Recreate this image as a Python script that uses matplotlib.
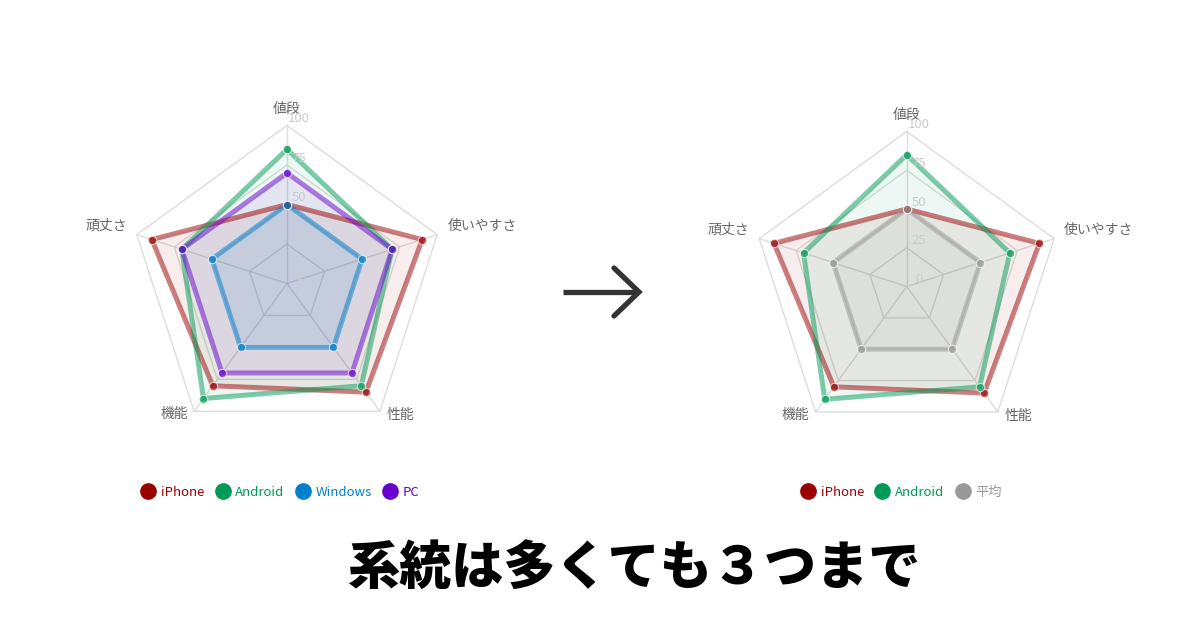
import numpy as np
import matplotlib.pyplot as plt
from matplotlib.lines import Line2D

plt.rcParams['font.family'] = ['Noto Sans CJK JP', 'DejaVu Sans']

# data
labels = ['値段', '使いやすさ', '性能', '機能', '頑丈さ']
iphone = [50, 90, 85, 80, 90]
android = [85, 70, 80, 90, 70]
windows = [50, 50, 50, 50, 50]
pc = [70, 70, 70, 70, 70]
average = [50, 50, 50, 50, 50]
ticks = [0, 25, 50, 75, 100]

RED, GREEN, BLUE, PURPLE, GRAY = '#990000', '#009955', '#0080cc', '#6600cc', '#999999'
left_series = [('iPhone', iphone, RED, 0.07), ('Android', android, GREEN, 0.07),
               ('Windows', windows, BLUE, 0.10), ('PC', pc, PURPLE, 0.07)]
right_series = [('iPhone', iphone, RED, 0.07), ('Android', android, GREEN, 0.07),
                ('平均', average, GRAY, 0.10)]

angles = np.linspace(0, 2 * np.pi, len(labels), endpoint=False)
ang_c = np.append(angles, angles[0])

# label offsets in pixels from each outer vertex
label_pos = [((0, 17), 'center'), ((10, 9), 'left'), ((7, -4), 'left'),
             ((-6, -3), 'right'), ((-10, 9), 'right')]

W, H = 1200, 630
fig = plt.figure(figsize=(12, 6.3), dpi=100)


def radar(cx, cy, R, series, legend_x):
    ax = fig.add_axes([(cx - R) / W, (H - cy - R) / H, 2 * R / W, 2 * R / H], projection='polar')
    ax.set_theta_offset(np.pi / 2)
    ax.set_theta_direction(-1)
    ax.set_ylim(0, 100)
    ax.grid(False)
    ax.set_xticks([])
    ax.set_yticks([])
    ax.spines['polar'].set_visible(False)
    ax.patch.set_visible(False)

    # pentagon grid
    for t in ticks[1:]:
        ax.plot(ang_c, [t] * len(ang_c), color='#dddddd', lw=1, clip_on=False, zorder=1)
    for a in angles:
        ax.plot([a, a], [0, 100], color='#dddddd', lw=1, clip_on=False, zorder=1)

    handles = []
    for name, vals, col, fa in series:
        v = np.append(vals, vals[0])
        ax.fill(ang_c, v, color=col, alpha=fa, lw=0, zorder=2)
        ax.plot(ang_c, v, color=col, alpha=0.5, lw=3.6, solid_joinstyle='miter', zorder=3)
        ax.plot(angles, vals, 'o', color=col, alpha=0.65, markersize=6,
                markeredgecolor='white', markeredgewidth=0.8, zorder=4)
        handles.append(Line2D([], [], marker='o', ls='', color=col, markersize=11))

    for t in ticks:
        ax.annotate(str(t), xy=(0, t), xytext=(12, 7), textcoords='offset pixels',
                    ha='center', va='center', color='#cccccc', fontsize=9.5, zorder=5)

    for a, lab, ((dx, dy), ha) in zip(angles, labels, label_pos):
        ax.annotate(lab, xy=(a, 100), xytext=(dx, dy), textcoords='offset pixels',
                    ha=ha, va='center', color='#666666', fontsize=10, annotation_clip=False)

    fig.legend(handles=handles, labels=[s[0] for s in series],
               labelcolor=[s[2] for s in series], loc='center',
               bbox_to_anchor=(legend_x / W, 1 - 492 / H), ncol=len(series),
               frameon=False, fontsize=9.5, handlelength=0.9, handletextpad=0.5,
               columnspacing=0.95)
    return ax


radar(287, 283.5, 158, left_series, 281)
radar(906.7, 286.5, 155, right_series, 902)

# arrow between the charts
fig.add_artist(Line2D([563 / W, 638 / W], [1 - 292 / H, 1 - 292 / H], color='#333333',
                      lw=3.8, solid_capstyle='butt'))
fig.add_artist(Line2D([614 / W, 639 / W, 614 / W], [1 - 268 / H, 1 - 292 / H, 1 - 316 / H],
                      color='#333333', lw=3.8, solid_capstyle='round', solid_joinstyle='miter'))

fig.text(634 / W, 1 - 570 / H, '系統は多くても３つまで', ha='center', va='center',
         fontsize=37.5, fontweight='black', color='black')

fig.savefig('out.png', dpi=100, facecolor='white')
